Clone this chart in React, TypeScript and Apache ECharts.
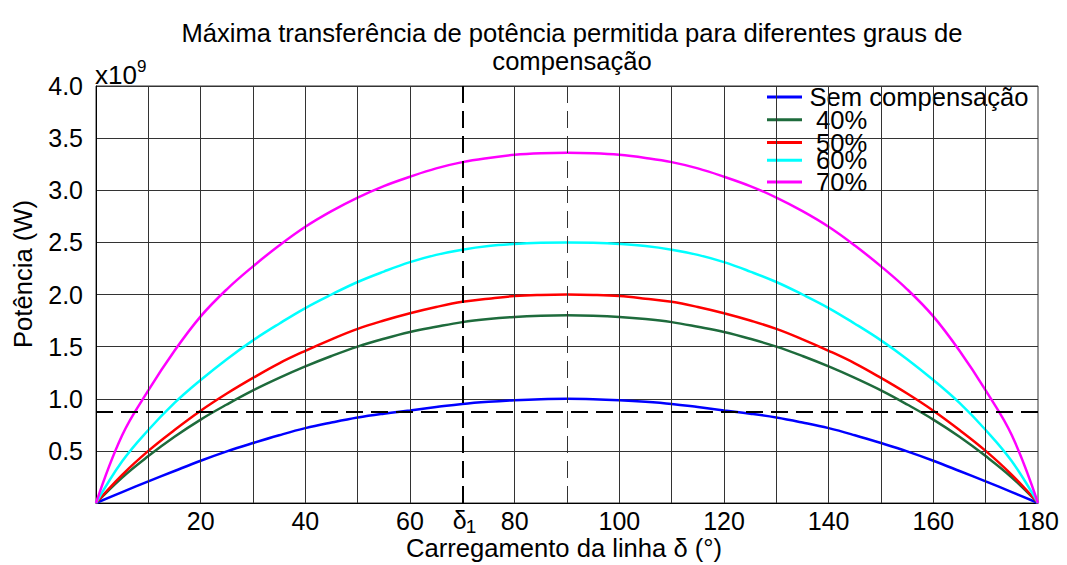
import React, { useEffect, useRef } from "react";
import * as echarts from "echarts";

// Loading angle δ (degrees)
const degrees = [
  0, 5, 10, 15, 20, 25, 30, 35, 40, 45, 50, 55, 60, 65, 70, 75, 80, 85, 90,
  95, 100, 105, 110, 115, 120, 125, 130, 135, 140, 145, 150, 155, 160, 165, 170, 175, 180,
];
// Power, in units of 10^9 W
const semCompensacao = [
  0, 0.105, 0.207, 0.307, 0.405, 0.495, 0.575, 0.65, 0.718, 0.772, 0.82, 0.857, 0.888, 0.92, 0.95, 0.971, 0.986, 0.996, 1.0,
  0.996, 0.986, 0.971, 0.95, 0.92, 0.888, 0.857, 0.82, 0.772, 0.718, 0.65, 0.575, 0.495, 0.405, 0.307, 0.207, 0.105, 0,
];
const comp40 = [
  0, 0.245, 0.45, 0.635, 0.8, 0.945, 1.08, 1.2, 1.31, 1.41, 1.5, 1.575, 1.64, 1.69, 1.735, 1.765, 1.785, 1.796, 1.8,
  1.796, 1.785, 1.765, 1.735, 1.69, 1.64, 1.575, 1.5, 1.41, 1.31, 1.2, 1.08, 0.945, 0.8, 0.635, 0.45, 0.245, 0,
];
const comp50 = [
  0, 0.27, 0.5, 0.7, 0.885, 1.05, 1.2, 1.34, 1.46, 1.57, 1.67, 1.75, 1.82, 1.88, 1.93, 1.96, 1.985, 1.996, 2.0,
  1.996, 1.985, 1.96, 1.93, 1.88, 1.82, 1.75, 1.67, 1.57, 1.46, 1.34, 1.2, 1.05, 0.885, 0.7, 0.5, 0.27, 0,
];
const comp60 = [
  0, 0.4, 0.7, 0.96, 1.18, 1.38, 1.56, 1.72, 1.87, 2.0, 2.12, 2.22, 2.31, 2.38, 2.43, 2.465, 2.485, 2.496, 2.5,
  2.496, 2.485, 2.465, 2.43, 2.38, 2.31, 2.22, 2.12, 2.0, 1.87, 1.72, 1.56, 1.38, 1.18, 0.96, 0.7, 0.4, 0,
];
const comp70 = [
  0, 0.65, 1.08, 1.46, 1.79, 2.05, 2.27, 2.47, 2.65, 2.8, 2.93, 3.04, 3.13, 3.21, 3.27, 3.31, 3.34, 3.355, 3.36,
  3.355, 3.34, 3.31, 3.27, 3.21, 3.13, 3.04, 2.93, 2.8, 2.65, 2.47, 2.27, 2.05, 1.79, 1.46, 1.08, 0.65, 0,
];

const seriesNames = ["Sem compensação", "40%", "50%", "60%", "70%"];
const seriesValues = [semCompensacao, comp40, comp50, comp60, comp70];
const seriesColors = ["#0000ff", "#1e6b3c", "#ff0000", "#00ffff", "#ff00ff"];

// x tick labels (others blank; 70 is labelled δ1 separately)
const xTickLabels: Record<number, string> = {
  20: "20", 40: "40", 60: "60", 80: "80",
  100: "100", 120: "120", 140: "140", 160: "160", 180: "180",
};
const verticalGridLines = [10, 20, 30, 40, 50, 60, 80, 100, 110, 120, 130, 140, 150, 160, 170];
const delta1 = 70;
const peakAngle = 90;
const powerLimit = 0.88;

const titleText = "Máxima transferência de potência permitida para diferentes graus de\ncompensação";
const xName = "Carregamento da linha δ (°)";
const yName = "Potência (W)";

const FONT = "'Liberation Sans', Arial, Helvetica, sans-serif";
const legendCenters = [96.5, 119.3, 142, 159.8, 181.5];

export default function App() {
  const ref = useRef<HTMLDivElement>(null);
  useEffect(() => {
    if (!ref.current) return;
    const chart = echarts.init(ref.current, undefined, { renderer: "svg" });
    const curveSeries = seriesNames.map((name, i) => ({
      name,
      type: "line",
      data: degrees.map((d, j) => [d, seriesValues[i][j]]),
      smooth: 0.4,
      showSymbol: false,
      symbol: "none",
      lineStyle: { color: seriesColors[i], width: 2.5 },
      itemStyle: { color: seriesColors[i] },
      z: 3,
    }));
    const option: any = {
      animation: false,
      backgroundColor: "#ffffff",
      textStyle: { fontFamily: FONT },
      grid: { left: 96, right: 29, top: 86, bottom: 62, show: true, borderColor: "#333", borderWidth: 1, containLabel: false },
      legend: seriesNames.map((n, i) => ({
        data: [n],
        left: 767,
        top: legendCenters[i] - 12.5,
        orient: "vertical",
        padding: 0,
        itemWidth: 35,
        itemHeight: 3,
        icon: "rect",
        selectedMode: false,
        textStyle: { fontSize: 25.6, lineHeight: 25, color: "#000", fontFamily: FONT, padding: [0, 0, 0, i === 0 ? 2.5 : 9] },
      })),
      xAxis: {
        type: "value",
        min: 0,
        max: 180,
        interval: 10,
        axisLine: { show: true, lineStyle: { color: "#000", width: 1 } },
        axisTick: { show: false },
        splitLine: { show: false },
        axisLabel: {
          margin: 5,
          fontSize: 25,
          lineHeight: 25,
          color: "#000",
          fontFamily: FONT,
          formatter: (v: number) => xTickLabels[v] || "",
        },
      },
      yAxis: {
        type: "value",
        min: 0,
        max: 4,
        interval: 0.5,
        axisLine: { show: true, lineStyle: { color: "#000", width: 1 } },
        axisTick: { show: false },
        splitLine: { show: true, lineStyle: { color: "#333", width: 1 } },
        axisLabel: {
          margin: 13,
          fontSize: 25,
          color: "#000",
          fontFamily: FONT,
          formatter: (v: number) => (v === 0 ? "" : v.toFixed(1)),
        },
      },
      series: [
        {
          name: "_grid",
          type: "line",
          data: [[0, 0]],
          showSymbol: false,
          symbol: "none",
          lineStyle: { opacity: 0 },
          z: 1,
          markLine: {
            silent: true,
            symbol: "none",
            label: { show: false },
            lineStyle: { color: "#333", width: 1, type: "solid" },
            data: verticalGridLines.map((x) => ({ xAxis: x })),
          },
        },
        {
          name: "_ref",
          type: "line",
          data: [[0, 0]],
          showSymbol: false,
          symbol: "none",
          lineStyle: { opacity: 0 },
          z: 2,
          markLine: {
            silent: true,
            symbol: "none",
            label: { show: false },
            data: [
              { yAxis: powerLimit, lineStyle: { color: "#000", width: 2, type: [17, 8] } },
              { xAxis: delta1, lineStyle: { color: "#000", width: 2, type: [17, 8] } },
              { xAxis: peakAngle, lineStyle: { color: "#333", width: 1, type: [17, 8] } },
            ],
          },
        },
        ...curveSeries,
      ],
      graphic: [
        {
          id: "title",
          type: "text",
          x: 572,
          y: 19,
          style: { text: titleText, font: `25.6px ${FONT}`, fill: "#000", align: "center", verticalAlign: "top", lineHeight: 28 },
        },
        {
          id: "xname",
          type: "text",
          x: 564,
          y: 547.5,
          style: { text: xName, font: `25.6px ${FONT}`, fill: "#000", align: "center", verticalAlign: "middle" },
        },
        {
          id: "yname",
          type: "text",
          x: 22.5,
          y: 274,
          rotation: Math.PI / 2,
          style: { text: yName, font: `25.6px ${FONT}`, fill: "#000", align: "center", verticalAlign: "middle" },
        },
        {
          id: "x10",
          type: "text",
          x: 95,
          y: 74.5,
          style: { text: "x10", font: `26px ${FONT}`, fill: "#000", align: "left", verticalAlign: "middle" },
        },
        {
          id: "exp9",
          type: "text",
          x: 137,
          y: 66,
          style: { text: "9", font: `17px ${FONT}`, fill: "#000", align: "left", verticalAlign: "middle" },
        },
      ],
    };
    chart.setOption(option);

    // δ1 tick label at the δ1 position, placed through the axis scale
    const px = chart.convertToPixel({ xAxisIndex: 0 }, delta1) as number;
    const py = chart.convertToPixel({ yAxisIndex: 0 }, 0) as number;
    chart.setOption({
      graphic: [
        {
          id: "delta1",
          type: "text",
          x: px - 2.7,
          y: py + 17,
          style: { text: "δ", font: `25px ${FONT}`, fill: "#000", align: "center", verticalAlign: "middle" },
        },
        {
          id: "delta1sub",
          type: "text",
          x: px + 3.5,
          y: py + 23.5,
          style: { text: "1", font: `19px ${FONT}`, fill: "#000", align: "left", verticalAlign: "middle" },
        },
      ],
    });
    return () => chart.dispose();
  }, []);
  return <div ref={ref} style={{ position: "absolute", left: 0, top: 0, width: 1067, height: 565 }} />;
}
